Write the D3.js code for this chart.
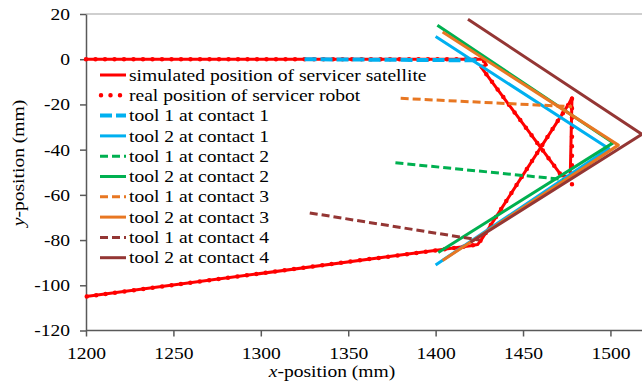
<!DOCTYPE html>
<html>
<head>
<meta charset="utf-8">
<script src="https://cdn.jsdelivr.net/npm/d3@7"></script>
<style>
  body { margin: 0; background: #fff; }
</style>
</head>
<body>
<div id="chart"></div>
<script>
// Chart data (x in mm, y in mm)
const simulatedX = [1200, 1427, 1429, 1426, 1472, 1477, 1478, 1476, 1426, 1424, 1420, 1200];
const simulatedY = [0, 0, -2.5, -3.5, -51.5, -52, -17, -20, -80, -82, -82.5, -105];

const realX = [1200, 1427, 1429, 1426, 1472, 1478, 1478, 1476, 1426, 1424, 1420, 1200];
const realY = [0, 0, -2.5, -3.5, -51.5, -56, -17, -20, -80, -82, -82.5, -105];

const tool1Contact1X = [1325, 1425];
const tool1Contact1Y = [0, -0.5];
const tool2Contact1X = [1400, 1499, 1400];
const tool2Contact1Y = [10, -39.5, -91];

const tool1Contact2X = [1377, 1473];
const tool1Contact2Y = [-45.8, -53.2];
const tool2Contact2X = [1401, 1501.5, 1401.5];
const tool2Contact2Y = [15, -37, -85.5];

const tool1Contact3X = [1380, 1478];
const tool1Contact3Y = [-17.3, -21];
const tool2Contact3X = [1404, 1504.5, 1404];
const tool2Contact3Y = [12, -38, -89];

const tool1Contact4X = [1328, 1425];
const tool1Contact4Y = [-68, -80];
const tool2Contact4X = [1418.5, 1518, 1420];
const tool2Contact4Y = [17.7, -33.2, -81];

const seriesNames = [
  "simulated position of servicer satellite",
  "real position of servicer robot",
  "tool 1 at contact 1",
  "tool 2 at contact 1",
  "tool 1 at contact 2",
  "tool 2 at contact 2",
  "tool 1 at contact 3",
  "tool 2 at contact 3",
  "tool 1 at contact 4",
  "tool 2 at contact 4",
];

const xTicks = [1200, 1250, 1300, 1350, 1400, 1450, 1500];
const yTicks = [20, 0, -20, -40, -60, -80, -100, -120];

// Line styles, one per series
const styles = [
  { color: "#FF0000", width: 3, dash: null },
  { color: "#FF0000", width: 4.5, dash: "0,9.5", cap: "round" },
  { color: "#00B0F0", width: 4, dash: "12,4" },
  { color: "#00B0F0", width: 3, dash: null },
  { color: "#00B050", width: 3, dash: "8,4" },
  { color: "#00B050", width: 3, dash: null },
  { color: "#E87722", width: 3, dash: "8,4" },
  { color: "#E87722", width: 3, dash: null },
  { color: "#943634", width: 3, dash: "8,4" },
  { color: "#943634", width: 3, dash: null },
];

const series = [
  [simulatedX, simulatedY],
  [realX, realY],
  [tool1Contact1X, tool1Contact1Y],
  [tool2Contact1X, tool2Contact1Y],
  [tool1Contact2X, tool1Contact2Y],
  [tool2Contact2X, tool2Contact2Y],
  [tool1Contact3X, tool1Contact3Y],
  [tool2Contact3X, tool2Contact3Y],
  [tool1Contact4X, tool1Contact4Y],
  [tool2Contact4X, tool2Contact4Y],
].map(([xs, ys], i) => ({
  name: seriesNames[i],
  style: styles[i],
  points: xs.map((x, j) => [x, ys[j]]),
}));

const WIDTH = 642;
const HEIGHT = 383;
const FONT_SIZE = "17px";
const FONT = '"Liberation Serif"';
const STRETCH = 1.15; // the reference text is a bit wider than tall

// Apply serif font and a horizontal stretch to a text selection
function styleText(sel) {
  sel
    .style("font-family", FONT)
    .style("font-size", FONT_SIZE)
    .attr("fill", "#000")
    .each(function () {
      const w = this.getComputedTextLength();
      this.setAttribute("textLength", (w * STRETCH).toFixed(1));
      this.setAttribute("lengthAdjust", "spacingAndGlyphs");
    });
}

const svg = d3
  .select("#chart")
  .append("svg")
  .attr("width", WIDTH)
  .attr("height", HEIGHT);

// Scales
const x = d3.scaleLinear().domain([1200, 1520]).range([86, 645.4]);
const y = d3.scaleLinear().domain([-120, 20]).range([330.5, 14]);

// Top border (light gray)
svg
  .append("line")
  .attr("x1", x(1200))
  .attr("x2", WIDTH)
  .attr("y1", y(20))
  .attr("y2", y(20))
  .attr("stroke", "#BFBFBF")
  .attr("stroke-width", 1.5);

// Y axis
const yAxis = svg
  .append("g")
  .attr("transform", `translate(${x(1200)},0)`)
  .call(
    d3.axisLeft(y)
      .tickValues(yTicks)
      .tickSize(6)
      .tickPadding(10)
      .tickSizeOuter(0)
      .tickFormat((d) => String(d))
  );

// X axis
const xAxis = svg
  .append("g")
  .attr("transform", `translate(0,${y(-120)})`)
  .call(
    d3.axisBottom(x)
      .tickValues(xTicks)
      .tickSize(6)
      .tickPadding(10)
      .tickSizeOuter(0)
      .tickFormat((d) => String(d))
  );

xAxis.select(".domain").attr("d", `M${x(1200)},0H${WIDTH}`);

[xAxis, yAxis].forEach((axis) => {
  axis.attr("font-family", null).attr("font-size", null);
  axis.select(".domain").attr("stroke", "#595959").attr("stroke-width", 1.5);
  axis.selectAll(".tick line").attr("stroke", "#595959").attr("stroke-width", 1.5);
  axis.selectAll(".tick text").call(styleText);
});

// Axis titles
svg
  .append("text")
  .attr("x", 332)
  .attr("y", 377)
  .attr("text-anchor", "middle")
  .html('<tspan font-style="italic">x</tspan>-position (mm)')
  .call(styleText);

svg
  .append("text")
  .attr("transform", "translate(24,163) rotate(-90)")
  .attr("text-anchor", "middle")
  .html('<tspan font-style="italic">y</tspan>-position (mm)')
  .call(styleText);

// Series lines
const line = d3
  .line()
  .x((d) => x(d[0]))
  .y((d) => y(d[1]));

svg
  .append("g")
  .selectAll("path")
  .data(series)
  .enter()
  .append("path")
  .attr("d", (d) => line(d.points))
  .attr("fill", "none")
  .attr("stroke", (d) => d.style.color)
  .attr("stroke-width", (d) => d.style.width)
  .attr("stroke-dasharray", (d) => d.style.dash)
  .attr("stroke-linecap", (d) => d.style.cap || "butt")
  .attr("stroke-linejoin", "round");

// Legend
const legendX = 100;
const legendY = 75;
const legendStep = 20.3;

const legend = svg
  .append("g")
  .selectAll(".legendItem")
  .data(series)
  .enter()
  .append("g")
  .attr("class", "legendItem")
  .attr("transform", (d, i) => `translate(${legendX},${legendY + i * legendStep})`);

legend
  .append("line")
  .attr("x1", (d) => (d.style.cap === "round" ? 1 : 0))
  .attr("x2", 26)
  .attr("stroke", (d) => d.style.color)
  .attr("stroke-width", (d) => d.style.width)
  .attr("stroke-dasharray", (d) => d.style.dash)
  .attr("stroke-linecap", (d) => d.style.cap || "butt");

legend
  .append("text")
  .attr("x", 29)
  .attr("dy", "0.33em")
  .text((d) => d.name)
  .call(styleText);
</script>
</body>
</html>
